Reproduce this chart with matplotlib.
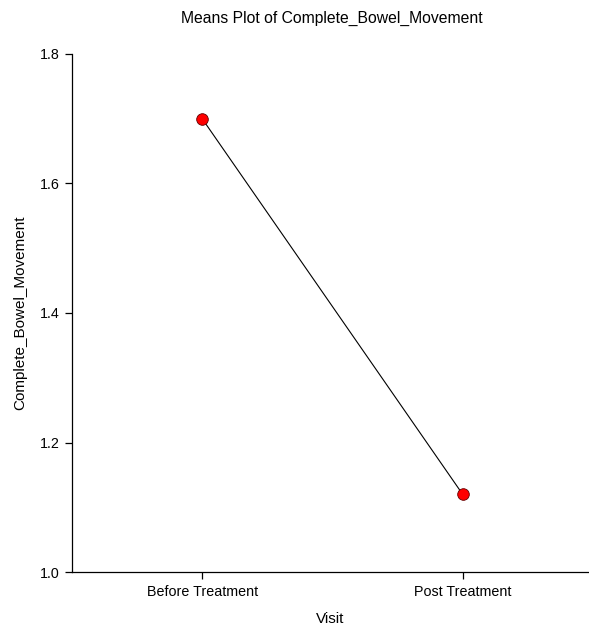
import matplotlib
matplotlib.use("Agg")
import matplotlib.pyplot as plt

# NOTE : data
visits = ["Before Treatment", "Post Treatment"]
means = [1.70, 1.12]
y_ticks = [1.0, 1.2, 1.4, 1.6, 1.8]

plt.rcParams["font.family"] = ["Liberation Sans", "DejaVu Sans"]

fig = plt.figure(figsize=(5.89, 6.27), dpi=100)
ax = fig.add_axes([0.1222, 0.0877, 0.8778, 0.8262])

x = list(range(len(visits)))
ax.plot(x, means, color="black", linewidth=0.8, zorder=2)
ax.scatter(x, means, s=70, color="red", edgecolor="#600000", linewidth=0.6, zorder=3)

ax.set_xlim(-0.5, 1.485)
ax.set_ylim(1.0, 1.8)
ax.set_xticks(x)
ax.set_xticklabels(visits)
ax.set_yticks(y_ticks)
ax.set_yticklabels([f"{v:.1f}" for v in y_ticks])

for side in ["top", "right"]:
    ax.spines[side].set_visible(False)
ax.spines["left"].set_linewidth(0.9)
ax.spines["bottom"].set_linewidth(0.9)
ax.tick_params(direction="out", length=5, width=0.9, labelsize=10.3, pad=4)

ax.set_xlabel("Visit", fontsize=11, labelpad=10)
ax.set_ylabel("Complete_Bowel_Movement", fontsize=11, labelpad=9)
fig.text(0.564, 0.971, "Means Plot of Complete_Bowel_Movement", ha="center", va="center", fontsize=11.3)

fig.savefig("out.png", dpi=100)
plt.close(fig)
